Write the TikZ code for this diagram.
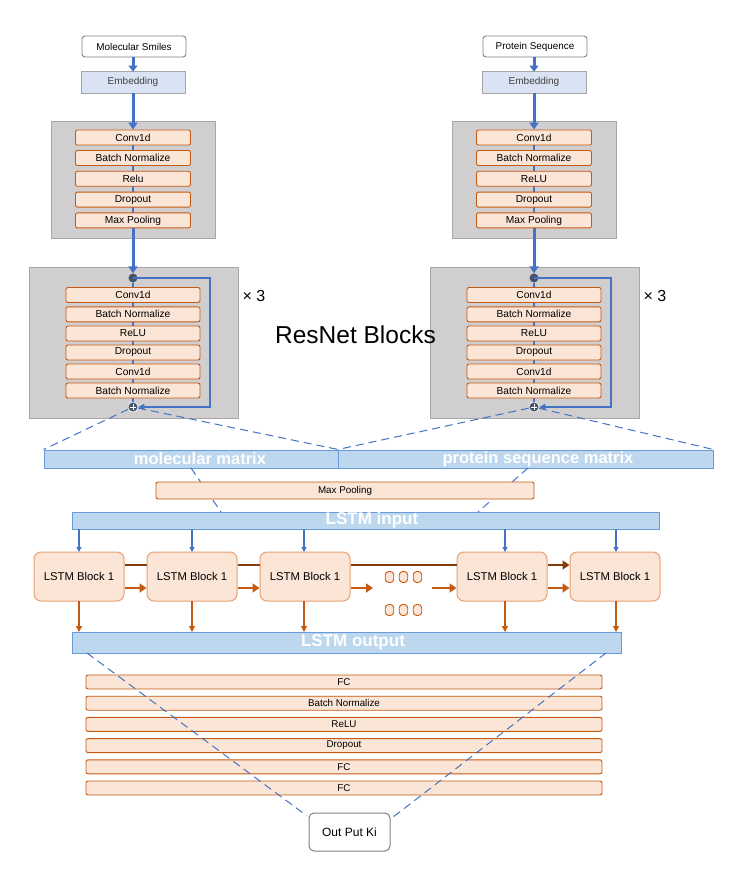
\documentclass[tikz,border=0pt]{standalone}
\usepackage{fontspec}
\setmainfont{Liberation Sans}
\usetikzlibrary{arrows.meta}
\definecolor{orB}{HTML}{C55A11}
\definecolor{orF}{HTML}{FBE5D6}
\definecolor{orL}{HTML}{E9A070}
\definecolor{brn}{HTML}{843C0C}
\definecolor{gyF}{HTML}{D0CECE}
\definecolor{gyB}{HTML}{A6A6A6}
\definecolor{bl}{HTML}{4472C4}
\definecolor{barF}{HTML}{BDD7EE}
\definecolor{barB}{HTML}{6A9BD8}
\definecolor{embF}{HTML}{DAE3F3}
\definecolor{dotF}{HTML}{44546A}
\begin{document}
\begin{tikzpicture}[x=1pt,y=-1pt,
  inbox/.style={draw=orB,fill=orF,line width=0.9pt,rounded corners=2pt,minimum height=15pt,inner sep=0pt,font=\fontsize{10.2}{11}\selectfont},
  fcbox/.style={draw=orB,fill=orF,line width=0.9pt,rounded corners=2pt,minimum width=516pt,minimum height=14pt,inner sep=0pt,font=\fontsize{9.8}{10}\selectfont},
  graybox/.style={draw=gyB,fill=gyF,line width=0.8pt,inner sep=0pt},
  topbox/.style={draw=gray,fill=white,line width=0.9pt,rounded corners=3pt,minimum height=21pt,inner sep=0pt,font=\fontsize{9.9}{10}\selectfont},
  embbox/.style={draw=gyB,fill=embF,line width=0.8pt,minimum width=104pt,minimum height=22pt,inner sep=0pt,font=\fontsize{10}{11}\selectfont,text=black!75},
  barbox/.style={draw=barB,fill=barF,line width=0.9pt,inner sep=0pt,text=white,font=\fontsize{17}{18}\selectfont\bfseries},
  lstmbox/.style={draw=orL,fill=orF,line width=1pt,rounded corners=7pt,minimum width=90pt,minimum height=49pt,inner sep=0pt,font=\fontsize{11.3}{12}\selectfont},
  dotbox/.style={draw=orB,fill=orF,line width=0.9pt,rounded corners=3.5pt,minimum width=8.5pt,minimum height=11pt,inner sep=0pt},
  thickarr/.style={draw=bl,line width=3pt,-{Triangle[length=7pt,width=9pt]}},
  thinln/.style={draw=bl,line width=1.6pt},
  skiparr/.style={draw=bl,line width=1.8pt,-{Triangle[length=6pt,width=6pt]}},
  inarr/.style={draw=bl,line width=1.4pt,-{Triangle[length=5pt,width=5pt]}},
  outarr/.style={draw=orB,line width=1.4pt,-{Triangle[length=6pt,width=6pt]}},
  lowarr/.style={draw=orB,line width=2.6pt,-{Triangle[length=7pt,width=9pt]}},
  topln/.style={draw=brn,line width=2.6pt},
  toparr/.style={draw=brn,line width=2.6pt,-{Triangle[length=7pt,width=9pt]}},
  dashln/.style={draw=bl,line width=1pt,dash pattern=on 8pt off 5pt}]
\useasboundingbox (0,0) rectangle (728,874);
\fill[white] (0,0) rectangle (728,874);

% ===== columns =====
\foreach \cx/\pre/\lab/\rl in {133/L/Molecular Smiles/Relu,534/R/Protein Sequence/ReLU}{
  \node[topbox,minimum width=104pt] (\pre-top) at (\cx+1,46.5) {\lab};
  \node[embbox] (\pre-emb) at (\cx,82) {Embedding};
  \node[graybox,minimum width=164pt,minimum height=117pt] (\pre-ga) at (\cx,179.5) {};
  \node[graybox,minimum width=209pt,minimum height=151pt] (\pre-gb) at (\cx+0.5,342.5) {};
  \coordinate (\pre-a1) at (\cx,137);
  \coordinate (\pre-a5) at (\cx,220.5);
  \draw[thinln] (\pre-a1) -- (\pre-a5);
  \node[inbox,minimum width=115pt] (\pre-c1) at (\cx,137.5) {Conv1d};
  \node[inbox,minimum width=115pt] (\pre-c2) at (\cx,158) {Batch Normalize};
  \node[inbox,minimum width=115pt] (\pre-c3) at (\cx,178.8) {\rl};
  \node[inbox,minimum width=115pt] (\pre-c4) at (\cx,199.6) {Dropout};
  \node[inbox,minimum width=115pt] (\pre-c5) at (\cx,220.4) {Max Pooling};
  \draw[draw=bl,line width=3pt,-{Triangle[length=6pt,width=9pt]}] ([xshift=-1pt]\pre-top.south) -- ([yshift=-1pt]\pre-emb.north);
  \draw[thickarr] (\pre-emb.south) -- (\pre-c1.north);
  \node[circle,fill=dotF,minimum size=9pt,inner sep=0pt] (\pre-dot) at (\cx,278) {};
  \node[circle,fill=dotF,draw=white,line width=0.6pt,minimum size=10pt,inner sep=0pt] (\pre-plus) at (\cx,407) {};
  \draw[thinln] (\pre-dot) -- (\pre-plus);
  \draw[thickarr] (\pre-c5.south) -- (\pre-dot.north);
  \node[inbox,minimum width=134pt] (\pre-r1) at (\cx,295) {Conv1d};
  \node[inbox,minimum width=134pt] (\pre-r2) at (\cx,314.3) {Batch Normalize};
  \node[inbox,minimum width=134pt] (\pre-r3) at (\cx,333.5) {ReLU};
  \node[inbox,minimum width=134pt] (\pre-r4) at (\cx,352.5) {Dropout};
  \node[inbox,minimum width=134pt] (\pre-r5) at (\cx,371.5) {Conv1d};
  \node[inbox,minimum width=134pt] (\pre-r6) at (\cx,390.5) {Batch Normalize};
  \draw[skiparr] (\pre-dot.center) -- (\cx+77,278) -- (\cx+77,407) -- (\pre-plus.east);
  \draw[white,line width=1pt] (\cx-3,407) -- (\cx+3,407) (\cx,404) -- (\cx,410);
  \node[font=\fontsize{16}{17}\selectfont,anchor=west] (\pre-x3) at (\cx+106,296) {× 3};
}
\node[font=\fontsize{24.5}{26}\selectfont] (resnet) at (355.5,335) {ResNet Blocks};

% ===== matrices =====
\node[barbox,minimum width=294pt,minimum height=18pt] (mol) at (191,459) {\fontsize{16.5}{17}\selectfont\hspace*{18pt}molecular matrix};
\node[barbox,minimum width=375pt,minimum height=18pt] (prot) at (525.5,459) {\fontsize{16.5}{17}\selectfont\hspace*{25pt}protein sequence matrix};
\draw[dashln] (L-plus) -- (mol.north west);
\draw[dashln] (L-plus) -- (mol.north east);
\draw[dashln] (R-plus) -- (prot.north west);
\draw[dashln] (R-plus) -- (prot.north east);

\coordinate (m1) at (191,468);
\coordinate (m2) at (221,512);
\coordinate (p1) at (528,468);
\coordinate (p2) at (478,512);
\draw[dashln] (m1) -- (m2);
\draw[dashln] (p1) -- (p2);
\node[draw=orB,fill=orF,line width=0.9pt,rounded corners=2pt,minimum width=378pt,minimum height=17pt,inner sep=0pt,font=\fontsize{9.8}{10}\selectfont] (mp) at (345,490.5) {Max Pooling};

\node[barbox,minimum width=587pt,minimum height=17pt] (lin) at (365.5,520.5) {\hspace*{13pt}LSTM input};

% ===== LSTM blocks =====
\node[lstmbox] (b1) at (79,576.5) {LSTM Block 1};
\node[lstmbox] (b2) at (192,576.5) {LSTM Block 1};
\node[lstmbox] (b3) at (305,576.5) {LSTM Block 1};
\node[lstmbox] (b4) at (502,576.5) {LSTM Block 1};
\node[lstmbox] (b5) at (615,576.5) {LSTM Block 1};

\foreach \xx in {79,192,304,505,616}{
  \draw[inarr] (\xx,529) -- (\xx,552);
  \draw[outarr] (\xx,601) -- (\xx,632);
}
\draw[topln] ([yshift=11.5pt]b1.east) -- ([yshift=11.5pt]b2.west);
\draw[topln] ([yshift=11.5pt]b2.east) -- ([yshift=11.5pt]b3.west);
\draw[topln] ([yshift=11.5pt]b3.east) -- ([yshift=11.5pt]b4.west);
\draw[toparr] ([yshift=11.5pt]b4.east) -- ([yshift=11.5pt]b5.west);
\coordinate (g1) at (373,588);
\coordinate (g2) at (432,588);
\draw[lowarr] ([yshift=-11.5pt]b1.east) -- ([yshift=-11.5pt]b2.west);
\draw[lowarr] ([yshift=-11.5pt]b2.east) -- ([yshift=-11.5pt]b3.west);
\draw[lowarr] ([yshift=-11.5pt]b3.east) -- (g1);
\draw[lowarr] (g2) -- ([yshift=-11.5pt]b4.west);
\draw[lowarr] ([yshift=-11.5pt]b4.east) -- ([yshift=-11.5pt]b5.west);
\foreach \xx/\i in {389.5/1,403.5/2,417.5/3}{
  \node[dotbox] (da\i) at (\xx,577) {};
  \node[dotbox] (db\i) at (\xx,610) {};
}

\node[barbox,minimum width=549pt,minimum height=21pt] (lout) at (346.5,642.5) {\hspace*{13pt}LSTM output};

% ===== FC stack =====
\node[fcbox] (f1) at (344,682) {FC};
\node[fcbox] (f2) at (344,703.2) {Batch Normalize};
\node[fcbox] (f3) at (344,724.4) {ReLU};
\node[fcbox] (f4) at (344,745.6) {Dropout};
\node[fcbox] (f5) at (344,766.8) {FC};
\node[fcbox] (f6) at (344,788) {FC};

\node[draw=gray,fill=white,line width=1pt,rounded corners=5pt,minimum width=81pt,minimum height=38pt,inner sep=0pt,font=\fontsize{12}{13}\selectfont] (out) at (349.5,832) {Out Put Ki};

\coordinate (o1) at (87,653);
\coordinate (o2) at (606,653);
\draw[dashln] (o1) -- ([shift={(-2pt,-3pt)}]out.north west);
\draw[dashln] (o2) -- ([shift={(2pt,-5pt)}]out.north east);
\end{tikzpicture}
\end{document}
